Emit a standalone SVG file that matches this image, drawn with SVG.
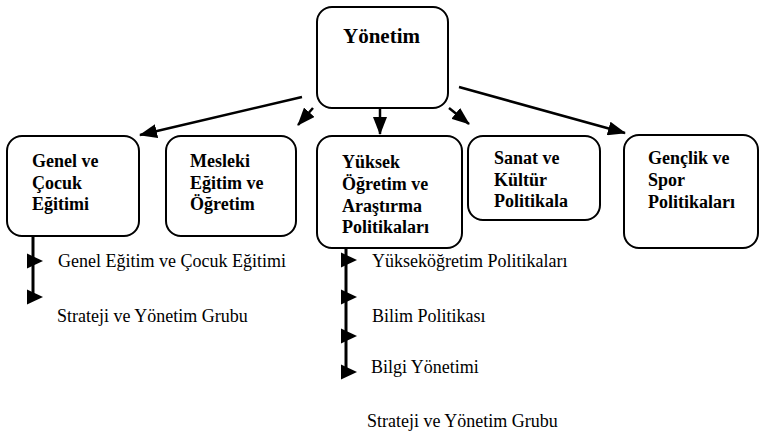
<svg xmlns="http://www.w3.org/2000/svg" xmlns:xlink="http://www.w3.org/1999/xlink" width="759" height="435" viewBox="0 0 759 435">
<style>
.box{fill:#fff;stroke:#000;stroke-width:2}
.bt{font-family:"Liberation Serif","Times New Roman",serif;font-weight:bold;font-size:18px;fill:#000}
.rt{font-family:"Liberation Serif","Times New Roman",serif;font-size:18px;fill:#000}
.arr{stroke:#000;stroke-width:2.5;fill:none;marker-end:url(#ah)}
.vl{stroke:#000;stroke-width:3;fill:none}
</style>
<defs>
<marker id="ah" markerUnits="userSpaceOnUse" markerWidth="18" markerHeight="14" refX="17" refY="7" orient="auto">
<path d="M0,0 L18,7 L0,14 z" fill="#000"/>
</marker>
<path id="tri" d="M0,-7.5 L16,0 L0,7.5 z" fill="#000"/>
</defs>
<g id="connectors">
<line class="arr" x1="302" y1="97" x2="140" y2="135"/>
<line class="arr" x1="313" y1="108" x2="298" y2="125"/>
<line class="arr" x1="380" y1="108" x2="380" y2="134"/>
<line class="arr" x1="449" y1="108" x2="469" y2="124"/>
<line class="arr" x1="459" y1="87" x2="625" y2="133"/>
<line class="vl" x1="33" y1="236" x2="33" y2="298"/>
<use xlink:href="#tri" x="27" y="261"/>
<use xlink:href="#tri" x="27" y="297"/>
<line class="vl" x1="346" y1="237" x2="346" y2="375"/>
<use xlink:href="#tri" x="341" y="260"/>
<use xlink:href="#tri" x="341" y="297"/>
<use xlink:href="#tri" x="341" y="336"/>
<use xlink:href="#tri" x="341" y="372"/>
</g>
<g id="yonetim">
<rect class="box" x="317" y="7" width="131" height="101" rx="15"/>
<text class="bt" x="343" y="43" style="font-size:21px">Yönetim</text>
</g>
<g id="genel">
<rect class="box" x="7" y="136" width="132" height="100" rx="15"/>
<text class="bt" x="32" y="167">Genel ve</text>
<text class="bt" x="32" y="189">Çocuk</text>
<text class="bt" x="32" y="210">Eğitimi</text>
</g>
<g id="mesleki">
<rect class="box" x="166" y="136" width="130" height="100" rx="15"/>
<text class="bt" x="190" y="167">Mesleki</text>
<text class="bt" x="190" y="189">Eğitim ve</text>
<text class="bt" x="190" y="210">Öğretim</text>
</g>
<g id="yuksek">
<rect class="box" x="317" y="136" width="145" height="112" rx="15"/>
<text class="bt" x="342" y="168">Yüksek</text>
<text class="bt" x="342" y="190">Öğretim ve</text>
<text class="bt" x="342" y="212">Araştırma</text>
<text class="bt" x="342" y="233">Politikaları</text>
</g>
<g id="sanat">
<rect class="box" x="468" y="136" width="132" height="84" rx="15"/>
<text class="bt" x="494" y="164">Sanat ve</text>
<text class="bt" x="494" y="186">Kültür</text>
<text class="bt" x="494" y="207">Politikala</text>
</g>
<g id="genclik">
<rect class="box" x="624" y="135" width="134" height="113" rx="15"/>
<text class="bt" x="648" y="164">Gençlik ve</text>
<text class="bt" x="648" y="186">Spor</text>
<text class="bt" x="648" y="208">Politikaları</text>
</g>
<g id="labels">
<text class="rt" x="58" y="267">Genel Eğitim ve Çocuk Eğitimi</text>
<text class="rt" x="57" y="322">Strateji ve Yönetim Grubu</text>
<text class="rt" x="372" y="267">Yükseköğretim Politikaları</text>
<text class="rt" x="372" y="322">Bilim Politikası</text>
<text class="rt" x="371" y="373">Bilgi Yönetimi</text>
<text class="rt" x="367" y="427">Strateji ve Yönetim Grubu</text>
</g>
</svg>
